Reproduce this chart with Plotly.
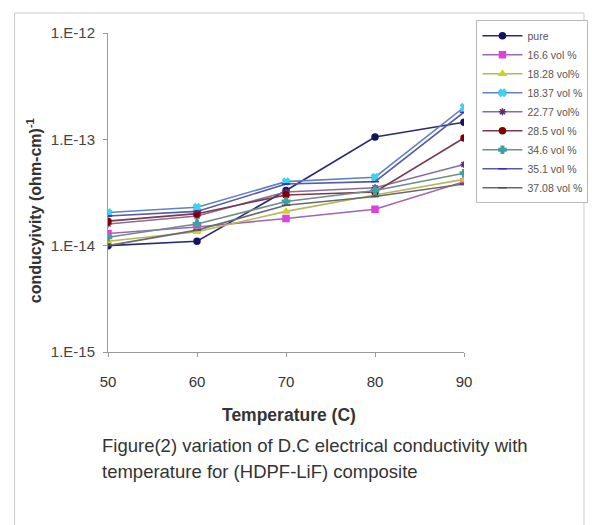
import plotly.graph_objects as go

temperature = [50, 60, 70, 80, 90]

series_names = ["pure", "16.6 vol %", "18.28 vol%", "18.37 vol %", "22.77 vol%",
                "28.5 vol %", "34.6 vol %", "35.1 vol %", "37.08 vol %"]

pure = [1.0e-14, 1.1e-14, 3.3e-14, 1.05e-13, 1.45e-13]
v16_6 = [1.3e-14, 1.5e-14, 1.8e-14, 2.2e-14, 4.0e-14]
v18_28 = [1.1e-14, 1.35e-14, 2.1e-14, 3.0e-14, 4.2e-14]
v18_37 = [2.05e-14, 2.3e-14, 4.0e-14, 4.4e-14, 2.0e-13]
v22_77 = [1.6e-14, 1.9e-14, 3.2e-14, 3.5e-14, 5.8e-14]
v28_5 = [1.7e-14, 2.0e-14, 3.0e-14, 3.2e-14, 1.03e-13]
v34_6 = [1.2e-14, 1.6e-14, 2.6e-14, 3.3e-14, 4.8e-14]
v35_1 = [1.9e-14, 2.1e-14, 3.8e-14, 4.0e-14, 1.8e-13]
v37_08 = [1.0e-14, 1.4e-14, 2.4e-14, 2.9e-14, 3.8e-14]

series_values = [pure, v16_6, v18_28, v18_37, v22_77, v28_5, v34_6, v35_1, v37_08]

x_tickvals = [50, 60, 70, 80, 90]
y_tickvals = [1e-15, 1e-14, 1e-13, 1e-12]
y_ticktext = ["1.E-15", "1.E-14", "1.E-13", "1.E-12"]

line_colors = ["#2a2a72", "#a066b4", "#b4b85a", "#6080c8", "#8a6c98",
               "#7a3a4a", "#6e8c8c", "#5a58a8", "#6a6a6a"]
marker_colors = ["#141460", "#e040e0", "#d0d020", "#40d0f0", "#602a70",
                 "#800000", "#40a0a0", "#3030c0", "#505050"]
marker_symbols = ["circle", "square", "triangle-up", "x", "asterisk",
                  "circle", "cross", "line-ew", "line-ew"]

fig = go.Figure()
for name, vals, lc, mc, ms in zip(series_names, series_values, line_colors,
                                  marker_colors, marker_symbols):
    fig.add_trace(go.Scatter(
        x=temperature, y=vals, name=name, mode="lines+markers",
        line=dict(color=lc, width=1.6),
        marker=dict(color=mc, size=6, symbol=ms,
                    line=dict(color=mc, width=1.5)),
    ))

fig.update_layout(
    width=600, height=525,
    margin=dict(l=108, r=130, t=33, b=173),
    paper_bgcolor="white", plot_bgcolor="white",
    font=dict(family="Liberation Sans, Arial, sans-serif", color="#333333"),
    showlegend=True,
    legend=dict(
        x=1.035, y=1.04, xanchor="left", yanchor="top",
        bgcolor="white", bordercolor="#bbbbbb", borderwidth=1,
        font=dict(size=10.5, color="#555555"),
        itemwidth=40, tracegroupgap=0,
    ),
    xaxis=dict(
        range=[50, 90], tickvals=x_tickvals,
        showline=True, linecolor="#999999", linewidth=1,
        ticks="outside", ticklen=4, tickcolor="#999999",
        ticklabelstandoff=12,
        showgrid=False, zeroline=False,
        tickfont=dict(size=15, color="#333333"),
    ),
    yaxis=dict(
        type="log", range=[-15, -12],
        tickvals=y_tickvals, ticktext=y_ticktext,
        showline=True, linecolor="#999999", linewidth=1,
        ticks="outside", ticklen=4, tickcolor="#999999",
        ticklabelstandoff=5,
        showgrid=False, zeroline=False,
        tickfont=dict(size=15, color="#444444"),
    ),
    annotations=[
        dict(text="<b>Temperature (C)</b>",
             xref="paper", yref="paper", x=(292 - 108) / 362, y=(352 - 415) / 319,
             xanchor="center", yanchor="middle", showarrow=False,
             font=dict(size=17.5, color="#333333")),
        dict(text="<b>conducyivity (ohm-cm)<sup>-1</sup></b>",
             xref="paper", yref="paper", x=(33 - 108) / 362, y=(352 - 211) / 319,
             xanchor="center", yanchor="middle", showarrow=False, textangle=-90,
             font=dict(size=16, color="#333333")),
        dict(text="Figure(2) variation of D.C electrical conductivity with",
             xref="paper", yref="paper", x=(100 - 108) / 362, y=(352 - 445) / 319,
             xanchor="left", yanchor="middle", showarrow=False,
             font=dict(size=18.5, color="#333333")),
        dict(text="temperature for (HDPF-LiF) composite",
             xref="paper", yref="paper", x=(100 - 108) / 362, y=(352 - 471) / 319,
             xanchor="left", yanchor="middle", showarrow=False,
             font=dict(size=18.5, color="#333333")),
    ],
    shapes=[
        dict(type="rect", xref="paper", yref="paper",
             x0=(13 - 108) / 362, x1=(592 - 108) / 362,
             y0=(352 - 530) / 319, y1=(352 - 13) / 319,
             line=dict(color="#cccccc", width=1), layer="below"),
    ],
)

fig.write_html("out.html")
